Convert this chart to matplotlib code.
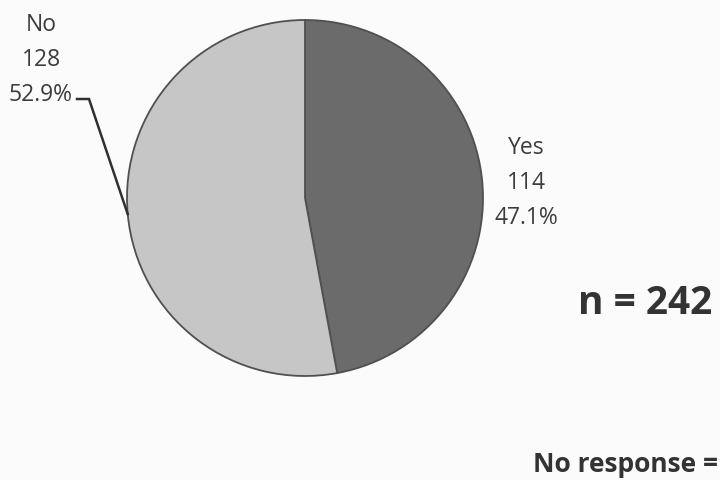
import numpy as np
import matplotlib
matplotlib.use("Agg")
import matplotlib.pyplot as plt

plt.rcParams['font.family'] = ['Open Sans', 'DejaVu Sans']

# data
categories = ["Yes", "No"]
counts = [114, 128]
n_total = 242
sliceColors = ["#6b6b6b", "#c6c6c6"]
textColor = "#3c3c3c"

fig = plt.figure(figsize=(7.2, 4.8), dpi=100)
fig.patch.set_facecolor("#fbfbfb")
ax = fig.add_axes([0, 0, 1, 1])

center = (305, 282)
radius = 178

wedges, _ = ax.pie(counts, colors=sliceColors, startangle=90, counterclock=False,
                   center=center, radius=radius,
                   wedgeprops=dict(edgecolor="#505050", linewidth=1.3))
ax.set_xlim(0, 720)
ax.set_ylim(0, 480)
ax.set_aspect("equal")
ax.axis("off")

pcts = [c / sum(counts) * 100 for c in counts]
labels = [f"{cat}\n{c}\n{p:.1f}%" for cat, c, p in zip(categories, counts, pcts)]

# Yes label, to the right of its wedge
w = wedges[0]
mid = np.deg2rad((w.theta1 + w.theta2) / 2)
ax.text(center[0] + radius * 1.25 * np.cos(mid), center[1] + radius * 1.25 * np.sin(mid) - 5,
        labels[0], ha="center", va="center", fontsize=16.5, color=textColor, linespacing=1.6)

# No label, upper left with leader line
w = wedges[1]
mid = np.deg2rad((w.theta1 + w.theta2) / 2)
edgePt = (center[0] + radius * np.cos(mid), center[1] + radius * np.sin(mid))
ax.text(41, 420, labels[1], ha="center", va="center", fontsize=16.5, color=textColor, linespacing=1.6)
ax.plot([77, 89, edgePt[0]], [381, 381, edgePt[1]], color="#303030", linewidth=1.8,
        solid_joinstyle="miter")

# kept inside the frame (the scan cuts these off at the right edge)
ax.text(578, 176, f"n = {n_total}", ha="left", va="center", fontsize=28,
        fontweight="bold", color="#333333")
ax.text(533, 15, "No response =", ha="left", va="center", fontsize=19,
        fontweight="bold", color="#333333")

fig.savefig("out.png", dpi=100, facecolor=fig.get_facecolor())
